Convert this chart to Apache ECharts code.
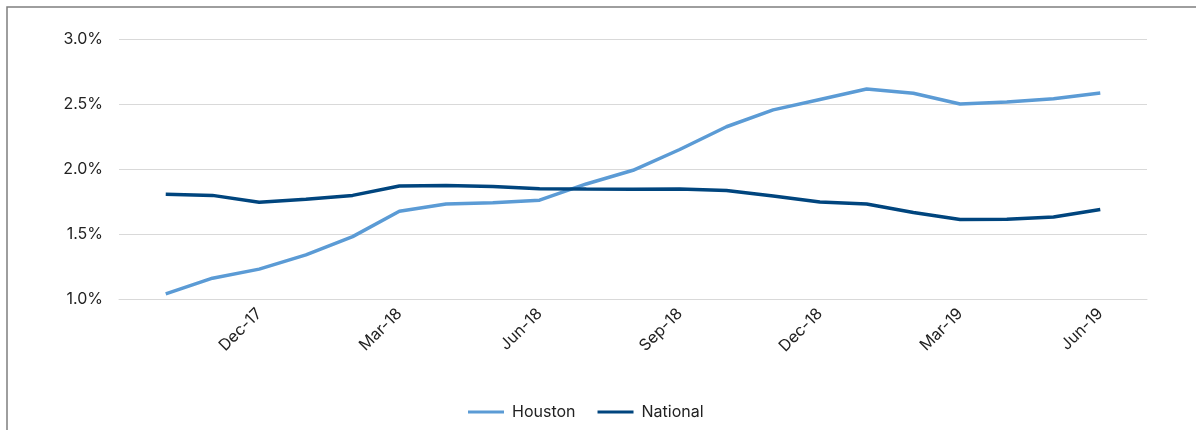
<!DOCTYPE html>
<html>
<head>
<meta charset="utf-8">
<script src="https://cdn.jsdelivr.net/npm/echarts@6/dist/echarts.min.js"></script>
<style>
html,body{margin:0;padding:0;background:#fff;}
#chart{width:1196px;height:430px;}
</style>
</head>
<body>
<div id="chart"></div>
<script>
// Categories (blank padding categories at each end to reproduce the plot spacing)
var categories = ['', 'Oct-17','Nov-17','Dec-17','Jan-18','Feb-18','Mar-18','Apr-18','May-18','Jun-18','Jul-18','Aug-18','Sep-18','Oct-18','Nov-18','Dec-18','Jan-19','Feb-19','Mar-19','Apr-19','May-19','Jun-19', ''];
var houston  = [null, 1.04, 1.16, 1.23, 1.34, 1.48, 1.675, 1.73, 1.74, 1.76, 1.885, 1.99, 2.15, 2.325, 2.455, 2.535, 2.615, 2.583, 2.50, 2.515, 2.541, 2.585, null];
var national = [null, 1.805, 1.797, 1.745, 1.767, 1.797, 1.869, 1.874, 1.865, 1.849, 1.846, 1.844, 1.846, 1.834, 1.792, 1.747, 1.731, 1.665, 1.611, 1.614, 1.631, 1.688, null];
var yTicks = {min: 1.0, max: 3.0, interval: 0.5};
var seriesNames = ['Houston', 'National'];

var chart = echarts.init(document.getElementById('chart'), null, {renderer: 'canvas'});
var font = 'Inter, Lato, sans-serif';
chart.setOption({
  backgroundColor: '#ffffff',
  animation: false,
  graphic: [{
    type: 'rect',
    shape: {x: 7, y: 7, width: 1400, height: 600},
    style: {fill: 'none', stroke: '#7f7f7f', lineWidth: 1.5},
    silent: true
  }],
  grid: {left: 119, right: 49, top: 39, bottom: 131, containLabel: false},
  legend: {
    data: seriesNames,
    left: 463,
    top: 399,
    icon: 'rect',
    itemWidth: 36,
    itemHeight: 3,
    itemGap: 22,
    textStyle: {fontFamily: font, fontSize: 16, color: '#222', padding: [0, 0, 0, 3]}
  },
  xAxis: {
    type: 'category',
    data: categories,
    boundaryGap: false,
    axisLine: {show: true, lineStyle: {color: '#d9d9d9', width: 1}},
    axisTick: {show: false},
    splitLine: {show: false},
    axisLabel: {
      interval: function (i, v) { return /^(Mar|Jun|Sep|Dec)/.test(v); },
      rotate: 45,
      margin: 12,
      fontFamily: font,
      fontSize: 16,
      color: '#222'
    }
  },
  yAxis: {
    type: 'value',
    min: yTicks.min,
    max: yTicks.max,
    interval: yTicks.interval,
    axisLine: {show: false},
    axisTick: {show: false},
    splitLine: {lineStyle: {color: '#d9d9d9', width: 1}},
    axisLabel: {
      margin: 16,
      fontFamily: font,
      fontSize: 16,
      color: '#222',
      formatter: function (v) { return v.toFixed(1) + '%'; }
    }
  },
  series: [
    {name: seriesNames[0], type: 'line', data: houston, symbol: 'none', connectNulls: false,
     lineStyle: {color: '#5b9bd5', width: 3.5}, itemStyle: {color: '#5b9bd5'}},
    {name: seriesNames[1], type: 'line', data: national, symbol: 'none', connectNulls: false,
     lineStyle: {color: '#00457e', width: 3.5}, itemStyle: {color: '#00457e'}}
  ]
});
</script>
</body>
</html>
